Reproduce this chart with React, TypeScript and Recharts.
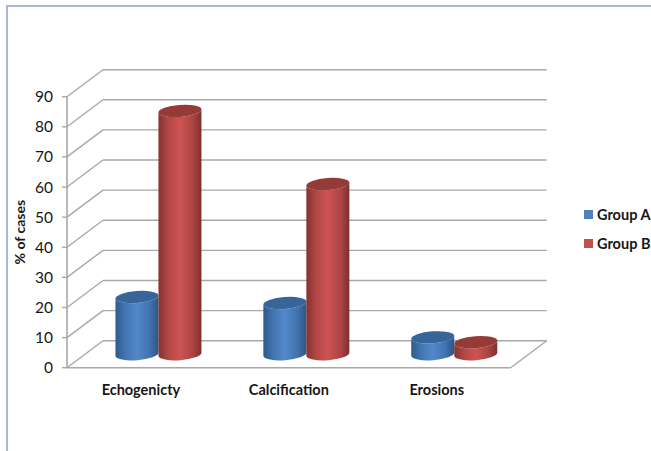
import React from "react";
import { BarChart, Bar, XAxis, YAxis, CartesianGrid, Legend } from "recharts";

const categories = ["Echogenicty", "Calcification", "Erosions"];
const groupA = [19, 17, 5.6];
const groupB = [80.8, 56.5, 4];
const yTicks = [0, 10, 20, 30, 40, 50, 60, 70, 80, 90];

const rows = categories.map((name, i) => ({ name, groupA: groupA[i], groupB: groupB[i] }));

// Depth of the pseudo-3D box: the back wall sits up and to the right of the front plane.
const DEPTH_X = 36;
const DEPTH_Y = 27;
const WALL = "#a8a8a8";
const FONT = "Lato, Carlito, sans-serif";
const INK = "#161616";

function WallLine(props: any) {
  const { x1, x2, y1 } = props;
  const isFloor = Math.abs(y1 - 367.7) < 1;
  return (
    <g stroke={WALL} strokeWidth={1.4} fill="none">
      <line x1={x1} y1={y1} x2={x1 + DEPTH_X} y2={y1 - DEPTH_Y} />
      <line x1={x1 + DEPTH_X} y1={y1 - DEPTH_Y} x2={x2 + DEPTH_X} y2={y1 - DEPTH_Y} />
      {isFloor && <line x1={x2} y1={y1} x2={x2 + DEPTH_X} y2={y1 - DEPTH_Y} />}
    </g>
  );
}

function CategoryTick(props: any) {
  const { x, y, payload } = props;
  return (
    <text
      x={x}
      y={y + 19}
      textAnchor="middle"
      fontFamily={FONT}
      fontWeight={700}
      fontSize={14.5}
      fill={INK}
    >
      {payload.value}
    </text>
  );
}

function Cylinder(props: any) {
  const { x, y, width, height, body, cap } = props;
  const ry = 6;
  const tilt = 1.6;
  const left = x + DEPTH_X / 2 - 0.6;
  const right = left + width;
  const top = y - DEPTH_Y / 2;
  const base = y + height - DEPTH_Y / 2;
  const rx = Math.hypot(width / 2, tilt);
  const angle = (-Math.atan2(2 * tilt, width) * 180) / Math.PI;
  const cx = left + width / 2;
  const side =
    `M${left},${top + tilt} L${left},${base + tilt} ` +
    `A${rx},${ry} ${angle} 0 0 ${right},${base - tilt} ` +
    `L${right},${top - tilt} ` +
    `A${rx},${ry} ${angle} 0 1 ${left},${top + tilt} Z`;
  return (
    <g>
      <path d={side} fill={`url(#${body})`} />
      <ellipse cx={cx} cy={top} rx={rx} ry={ry} fill={cap} transform={`rotate(${angle} ${cx} ${top})`} />
    </g>
  );
}

function LegendBox(props: any) {
  const items = props.payload || [];
  return (
    <div style={{ position: "relative", width: 70, height: 50 }}>
      {items.map((it: any, i: number) => (
        <div
          key={it.value}
          style={{
            position: "absolute",
            left: 0,
            top: i * 29,
            height: 18,
            display: "flex",
            alignItems: "center",
            whiteSpace: "nowrap",
            fontFamily: FONT,
            fontWeight: 700,
            fontSize: 14.5,
            color: INK,
          }}
        >
          <span style={{ width: 9, height: 9, background: it.color, marginRight: 4 }} />
          {it.value}
        </div>
      ))}
    </div>
  );
}

export default function App() {
  return (
    <div
      style={{
        position: "absolute",
        left: 0,
        top: 0,
        width: 651,
        height: 451,
        overflow: "hidden",
        background: "#fff",
      }}
    >
      <div style={{ position: "absolute", left: 6, top: 5, width: 645, height: 2, background: "#aab6dc" }} />
      <div style={{ position: "absolute", left: 6, top: 5, width: 2, height: 446, background: "#aab6dc" }} />
      <BarChart
        width={651}
        height={451}
        data={rows}
        margin={{ top: 96.7, right: 70.3, bottom: 53.3, left: 8 }}
        barCategoryGap="21%"
        barGap={0}
        style={{ position: "absolute", left: 0, top: 0 }}
      >
        <defs>
          <linearGradient id="cylBlue" x1="0" y1="0" x2="1" y2="0">
            <stop offset="0" stopColor="#2d5a8e" />
            <stop offset="0.22" stopColor="#4274b0" />
            <stop offset="0.5" stopColor="#5289cb" />
            <stop offset="0.8" stopColor="#4172ad" />
            <stop offset="1" stopColor="#2b5586" />
          </linearGradient>
          <linearGradient id="cylRed" x1="0" y1="0" x2="1" y2="0">
            <stop offset="0" stopColor="#843230" />
            <stop offset="0.22" stopColor="#b04644" />
            <stop offset="0.5" stopColor="#cd5453" />
            <stop offset="0.8" stopColor="#ab4442" />
            <stop offset="1" stopColor="#7f302e" />
          </linearGradient>
        </defs>
        <CartesianGrid vertical={false} horizontal={(p: any) => <WallLine key={p.index} {...p} />} />
        <XAxis
          dataKey="name"
          height={30}
          axisLine={{ stroke: WALL, strokeWidth: 1.6 }}
          tickLine={false}
          interval={0}
          tick={<CategoryTick />}
        />
        <YAxis
          domain={[0, 90]}
          ticks={yTicks}
          interval={0}
          width={59}
          axisLine={{ stroke: WALL, strokeWidth: 1.6 }}
          tickLine={{ stroke: WALL, strokeWidth: 1.4 }}
          tickSize={5}
          tickMargin={9}
          tick={{ fontFamily: FONT, fontSize: 15.5, fill: INK }}
          label={{
            value: "% of cases",
            angle: -90,
            position: "insideLeft",
            offset: 0,
            dx: 12,
            style: { fontFamily: FONT, fontWeight: 700, fontSize: 14, fill: INK, textAnchor: "middle" },
          }}
        />
        <Legend
          layout="vertical"
          align="right"
          verticalAlign="top"
          wrapperStyle={{ left: 584, top: 205, width: 70 }}
          content={<LegendBox />}
        />
        <Bar
          dataKey="groupA"
          name="Group A"
          fill="#4f81bd"
          isAnimationActive={false}
          shape={(p: any) => <Cylinder {...p} body="cylBlue" cap="#37659a" />}
        />
        <Bar
          dataKey="groupB"
          name="Group B"
          fill="#c0504d"
          isAnimationActive={false}
          shape={(p: any) => <Cylinder {...p} body="cylRed" cap="#963a38" />}
        />
      </BarChart>
    </div>
  );
}
